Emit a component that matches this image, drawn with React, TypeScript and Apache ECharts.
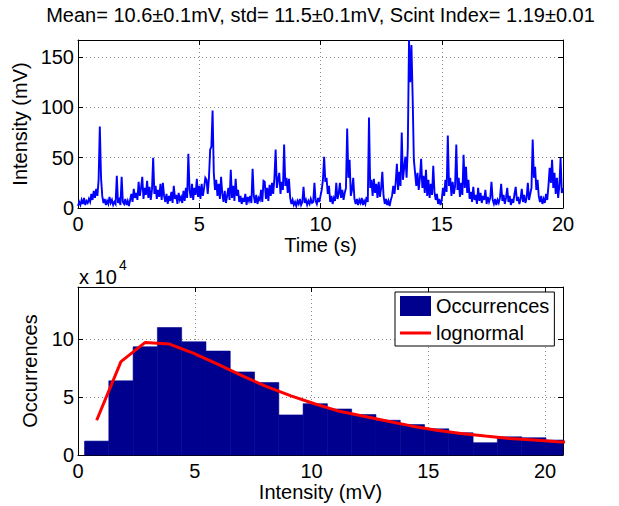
import React, { useEffect, useRef } from "react";
import * as echarts from "echarts";

const titleText = "Mean= 10.6±0.1mV, std= 11.5±0.1mV, Scint Index= 1.19±0.01";
const sampleStep = 0.05; // s between samples

// Intensity (mV), t = 0.00 .. 4.95 s
const intensity0to5 = [
  2, 6, 3, 8, 4, 10, 3, 7, 5, 9,
  6, 14, 8, 17, 10, 19, 12, 28,
  81, 30,
  12, 5, 9, 3, 7, 4, 11, 5, 8, 3, 6, 4,
  32, 5, 8, 3, 31, 6,
  4, 9, 3, 7, 2, 8,
  14, 6, 19, 10, 15, 8, 26, 12, 20, 31, 9, 20, 13, 27, 10, 21, 8, 18,
  50, 14,
  22, 9, 18, 11, 24, 8, 25, 12,
  6, 14, 4, 12, 7, 16, 5, 22, 9, 13, 4, 15, 8, 11, 5, 17, 7, 20, 10,
  54, 18,
  10, 24, 8, 20, 13, 29, 11,
];
// t = 5.00 .. 9.95 s
const intensity5to10 = [
  22, 9, 24, 12, 20, 30,
  28, 14, 30, 58, 61, 97, 35,
  18, 28, 12, 24, 9, 31,
  14, 6, 17, 5, 12, 20, 8,
  38, 10,
  22, 7, 29, 12, 18, 6,
  12, 4, 10, 6, 14, 3, 11, 7,
  12, 5, 39, 12, 5, 13, 4, 10, 8, 18, 6, 27, 26, 9, 20, 7, 23,
  12, 25, 14, 30, 58, 20, 28, 35, 14, 26, 18, 63, 22, 30, 15, 29, 10,
  4, 8, 3, 6, 2, 7, 4, 9, 3, 6, 21, 5, 8, 3, 7, 4, 9, 5, 6, 25, 7, 4, 10, 6,
];
// t = 10.00 .. 14.95 s
const intensity10to15 = [
  12, 18, 28, 51, 26, 30, 14, 22,
  6, 12, 4, 10, 7, 25,
  9, 14, 25, 10, 18, 8, 15,
  20, 79, 30, 48, 12, 18, 30, 9,
  4, 9, 3, 8, 5, 10, 3, 7, 4, 11, 6,
  90, 20, 28, 12, 29, 15, 24, 10, 26, 11, 20, 36, 12,
  4, 9, 3, 7, 2, 8,
  12, 22, 14,
  25, 44, 18, 36, 22, 75, 28, 40, 51, 30, 60,
  167, 125, 162, 110, 48, 35,
  22, 35, 18, 30, 49, 20, 32, 15, 38, 12, 28, 10, 24, 13, 42, 16, 8, 14, 4, 9, 3,
];
// t = 15.00 .. 20.00 s
const intensity15to20 = [
  8, 20, 12, 28, 16, 72, 22, 30, 12, 26, 14, 22, 63, 18, 30, 11, 25, 13, 53, 20, 41, 15, 28, 9,
  16, 6, 21, 8, 13, 4, 20, 7, 15, 5, 12, 8, 18, 4, 11, 6,
  10, 26, 8, 4, 9, 3, 8, 5, 10, 24, 7,
  13, 4, 10, 20, 6, 12, 3, 9, 5, 14, 21, 7, 11, 4, 9, 19, 6, 13, 5, 10, 25,
  8, 14, 20, 68, 30, 41, 18, 28, 12,
  6, 12, 4, 9, 5, 14, 8,
  22, 40, 25, 48, 20, 35, 14, 30, 10, 22, 50, 15, 20,
];

// Histogram (occurrences in units of 1e4)
const binCenters = [0.8, 1.84, 2.88, 3.92, 4.96, 6.0, 7.04, 8.08, 9.12, 10.16, 11.2, 12.24, 13.28, 14.32, 15.36, 16.4, 17.44, 18.48, 19.52, 20.56];
const binWidth = 1.04;
const occurrences = [1.2, 6.4, 9.34, 11.0, 9.77, 8.97, 7.17, 6.26, 3.46, 4.43, 3.97, 3.49, 3.0, 2.63, 2.26, 1.92, 1.06, 1.57, 1.49, 1.29];

// Lognormal fit
const fitX = [0.8, 1.84, 2.88, 3.92, 4.96, 6.0, 7.04, 8.08, 9.12, 10.16, 11.2, 12.24, 13.28, 14.32, 15.36, 16.4, 17.44, 18.48, 19.52, 20.56, 21.6];
const fitY = [3.0, 8.06, 9.72, 9.57, 8.77, 7.83, 6.83, 5.9, 5.1, 4.4, 3.77, 3.34, 2.91, 2.49, 2.14, 1.86, 1.63, 1.43, 1.29, 1.15, 1.04];

const FONT = "'Liberation Sans', Arial, Helvetica, sans-serif";
const LINE_ICON = "path://M0,8.5H31V11.5H0Z M0,0H0.05V0.05H0Z M30.95,19.95H31V20H30.95Z";

export default function App() {
  const ref = useRef<HTMLDivElement>(null);

  useEffect(() => {
    if (!ref.current) return;
    const chart = echarts.init(ref.current, undefined, { renderer: "svg" });

    const intensity = [...intensity0to5, ...intensity5to10, ...intensity10to15, ...intensity15to20];
    const timeSeries = intensity.map((v, i) => [+(i * sampleStep).toFixed(2), v]);
    const histData = binCenters.map((c, i) => [c, occurrences[i]]);
    const fitData = fitX.map((x, i) => [x, fitY[i]]);

    const gridLine = { show: true, lineStyle: { color: "#8a8a8a", type: [1, 3] as any, width: 1 } };
    const axisLine = { show: true, onZero: false, lineStyle: { color: "#000", width: 1 } };
    const axisTick = { show: true, inside: true, length: 5, lineStyle: { color: "#000" } };
    const label = (step: number, margin: number) => ({
      color: "#000",
      fontSize: 20,
      fontFamily: FONT,
      margin,
      formatter: (v: number) => (Math.abs(v % step) < 1e-9 ? String(v) : ""),
    });
    const nameStyle = { color: "#000", fontSize: 20, fontFamily: FONT };
    const mirror = (extra: any) => ({
      type: "value",
      axisLine,
      axisTick,
      axisLabel: { show: false },
      splitLine: { show: false },
      ...extra,
    });

    chart.setOption({
      animation: false,
      backgroundColor: "#fff",
      graphic: [
        {
          type: "text",
          x: 320.5,
          y: 15,
          style: { text: titleText, fill: "#000", font: `20px ${FONT}`, textAlign: "center", textVerticalAlign: "middle" },
        },
        {
          type: "text",
          x: 79,
          y: 277,
          style: { text: "x 10", fill: "#000", font: `20px ${FONT}`, textAlign: "left", textVerticalAlign: "middle" },
        },
        {
          type: "text",
          x: 119,
          y: 265,
          style: { text: "4", fill: "#000", font: `14px ${FONT}`, textAlign: "left", textVerticalAlign: "middle" },
        },
      ],
      grid: [
        { left: 78, top: 40, width: 485, height: 168 },
        { left: 78, top: 287, width: 485, height: 168 },
      ],
      xAxis: [
        {
          gridIndex: 0, type: "value", min: 0, max: 20, interval: 5, position: "bottom",
          axisLine, axisTick, axisLabel: label(5, 6), splitLine: gridLine,
          name: "Time (s)", nameLocation: "middle", nameGap: 26, nameTextStyle: nameStyle,
        },
        mirror({ gridIndex: 0, min: 0, max: 20, interval: 5, position: "top" }),
        {
          gridIndex: 1, type: "value", min: 0, max: 20.77, interval: 5, position: "bottom",
          axisLine, axisTick, axisLabel: label(5, 6), splitLine: gridLine,
          name: "Intensity (mV)", nameLocation: "middle", nameGap: 26, nameTextStyle: nameStyle,
        },
        mirror({ gridIndex: 1, min: 0, max: 20.77, interval: 5, position: "top" }),
      ],
      yAxis: [
        {
          gridIndex: 0, type: "value", min: 0, max: 167, interval: 50, position: "left",
          axisLine, axisTick, axisLabel: label(50, 4), splitLine: gridLine,
          name: "Intensity (mV)", nameLocation: "middle", nameGap: 41, nameTextStyle: nameStyle,
        },
        mirror({ gridIndex: 0, min: 0, max: 167, interval: 50, position: "right" }),
        {
          gridIndex: 1, type: "value", min: 0, max: 14.5, interval: 5, position: "left",
          axisLine, axisTick, axisLabel: label(5, 4), splitLine: gridLine,
          name: "Occurrences", nameLocation: "middle", nameGap: 38, nameTextStyle: nameStyle,
        },
        mirror({ gridIndex: 1, min: 0, max: 14.5, interval: 5, position: "right" }),
      ],
      legend: {
        data: [
          { name: "Occurrences", icon: "rect" },
          { name: "lognormal", icon: LINE_ICON },
        ],
        orient: "vertical",
        left: 395,
        top: 292,
        itemWidth: 31,
        itemHeight: 20,
        itemGap: 7,
        padding: [4, 5, 3, 5],
        borderColor: "#000",
        borderWidth: 1,
        backgroundColor: "#fff",
        selectedMode: false,
        textStyle: { color: "#000", fontSize: 20, fontFamily: FONT },
        z: 10,
      },
      series: [
        {
          type: "line",
          name: "signal",
          xAxisIndex: 0,
          yAxisIndex: 0,
          data: timeSeries,
          symbol: "none",
          clip: true,
          lineStyle: { color: "#0000FF", width: 1.9, join: "miter" },
          itemStyle: { color: "#0000FF" },
        },
        {
          type: "custom",
          name: "Occurrences",
          xAxisIndex: 2,
          yAxisIndex: 2,
          data: histData,
          encode: { x: 0, y: 1 },
          itemStyle: { color: "#00008F" },
          renderItem: (params: any, api: any) => {
            const c = api.value(0);
            const v = api.value(1);
            const p0 = api.coord([c - binWidth / 2, 0]);
            const p1 = api.coord([c + binWidth / 2, v]);
            const cs = params.coordSys;
            const shape = echarts.graphic.clipRectByRect(
              { x: p0[0], y: p1[1], width: p1[0] - p0[0], height: p0[1] - p1[1] },
              { x: cs.x, y: cs.y, width: cs.width, height: cs.height }
            );
            if (!shape) return null;
            return {
              type: "rect",
              shape,
              style: { fill: "#00008F", stroke: "#00008F", lineWidth: 0.6 },
            };
          },
        },
        {
          type: "line",
          name: "lognormal",
          xAxisIndex: 2,
          yAxisIndex: 2,
          data: fitData,
          symbol: "none",
          clip: true,
          z: 4,
          lineStyle: { color: "#FF0000", width: 3 },
          itemStyle: { color: "#FF0000" },
        },
      ],
    });

    return () => chart.dispose();
  }, []);

  return (
    <div
      ref={ref}
      style={{ position: "absolute", left: 0, top: 0, width: 619, height: 506, background: "#fff" }}
    />
  );
}
